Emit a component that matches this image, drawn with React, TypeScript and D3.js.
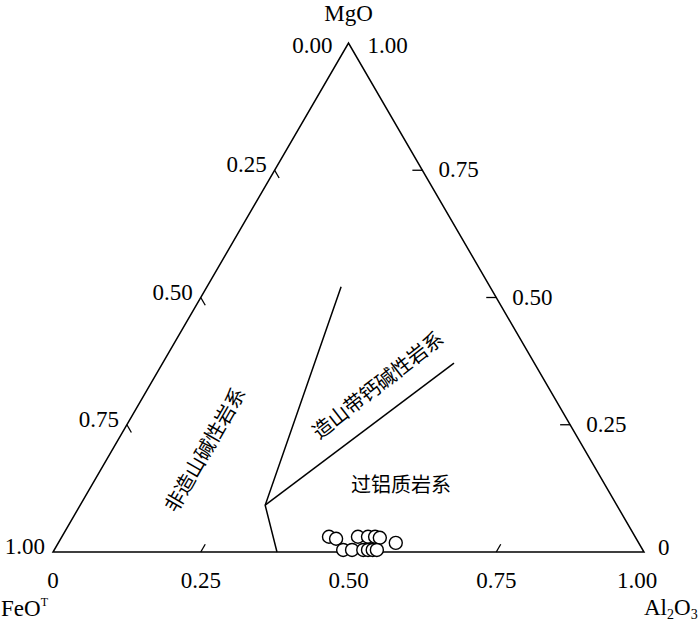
import React from "react";
import * as d3 from "d3";

// Ternary data: FeO^T (left apex), MgO (top apex), Al2O3 (right apex)
const feo = [0.518, 0.508, 0.469, 0.452, 0.44, 0.433, 0.507, 0.492, 0.473, 0.465, 0.457, 0.45, 0.411];
const mgo = [0.03, 0.026, 0.03, 0.03, 0.03, 0.028, 0.004, 0.004, 0.004, 0.004, 0.004, 0.004, 0.018];
const al2o3 = [0.452, 0.466, 0.501, 0.518, 0.53, 0.539, 0.489, 0.504, 0.523, 0.531, 0.539, 0.546, 0.571];

// Field boundaries as [Al2O3, MgO] compositions
const boundaryA: [number, number][] = [[0.227, 0.521], [0.313, 0.092], [0.379, 0]];
const boundaryB: [number, number][] = [[0.313, 0.092], [0.493, 0.371]];

const tickValues = [0.25, 0.5, 0.75];
const bottomTickLabels = ["0", "0.25", "0.50", "0.75", "1.00"];
const leftTickLabels = ["0.00", "0.25", "0.50", "0.75", "1.00"];
const rightTickLabels = ["1.00", "0.75", "0.50", "0.25", "0"];

const fieldLabels = ["非造山碱性岩系", "造山带钙碱性岩系", "过铝质岩系"];

const W = 700;
const H = 623;
const left = 53;
const right = 644;
const base = 552;
const top = 43;

const xScale = d3.scaleLinear().domain([0, 1]).range([left, right]);
const yScale = d3.scaleLinear().domain([0, 1]).range([base, top]);

const proj = (al: number, mg: number): [number, number] => [xScale(al + mg / 2), yScale(mg)];

const serif = "'Liberation Serif', 'Times New Roman', serif";
const cjk = "'Noto Sans CJK SC', sans-serif";
const fs = 23;

export default function App() {
  const line = d3.line<[number, number]>().x((d) => d[0]).y((d) => d[1]);
  const tri = line.curve(d3.curveLinearClosed)([proj(0, 0), proj(1, 0), proj(0, 1)]) || "";
  const lineA = d3.line<[number, number]>()(boundaryA.map(([a, m]) => proj(a, m))) || "";
  const lineB = d3.line<[number, number]>()(boundaryB.map(([a, m]) => proj(a, m))) || "";
  const tl = 9;
  const c60 = 0.5;
  const s60 = Math.sqrt(3) / 2;

  const leftVals = [0, 0.25, 0.5, 0.75, 1];
  const rightVals = [1, 0.75, 0.5, 0.25, 0];

  return (
    <svg width={W} height={H} style={{ position: "absolute", left: 0, top: 0, background: "#fff" }}>
      <path d={tri} fill="none" stroke="#000" strokeWidth={1.5} strokeLinejoin="miter" />
      {tickValues.map((v) => {
        const [x, y] = proj(v, 0);
        return <line key={"b" + v} x1={x} y1={y} x2={x + tl * c60} y2={y - tl * s60} stroke="#000" strokeWidth={1.3} />;
      })}
      {tickValues.map((v) => {
        const [x, y] = proj(0, 1 - v);
        return <line key={"l" + v} x1={x} y1={y} x2={x + tl * c60} y2={y + tl * s60} stroke="#000" strokeWidth={1.3} />;
      })}
      {tickValues.map((v) => {
        const [x, y] = proj(1 - v, v);
        return <line key={"r" + v} x1={x} y1={y} x2={x - tl - 1} y2={y} stroke="#000" strokeWidth={1.3} />;
      })}
      <path d={lineA} fill="none" stroke="#000" strokeWidth={1.5} />
      <path d={lineB} fill="none" stroke="#000" strokeWidth={1.5} />

      <g fontFamily={serif} fontSize={fs} fill="#000">
        {bottomTickLabels.map((t, i) => {
          const [x] = proj(i * 0.25, 0);
          return (
            <text key={"bl" + i} x={x + (i === 4 ? -7 : 0)} y={588} textAnchor="middle">
              {t}
            </text>
          );
        })}
        {leftTickLabels.map((t, i) => {
          if (i === 0) {
            const [x, y] = proj(0, 1);
            return (
              <text key="ll0" x={x - 16} y={y + 10} textAnchor="end">
                {t}
              </text>
            );
          }
          const [x, y] = proj(0, 1 - leftVals[i]);
          return (
            <text key={"ll" + i} x={x - 8} y={y + 2} textAnchor="end">
              {t}
            </text>
          );
        })}
        {rightTickLabels.map((t, i) => {
          if (i === 0) {
            const [x, y] = proj(0, 1);
            return (
              <text key="rl0" x={x + 19} y={y + 10} textAnchor="start">
                {t}
              </text>
            );
          }
          const v = rightVals[i];
          const [x, y] = proj(1 - v, v);
          return (
            <text key={"rl" + i} x={x + (i === 4 ? 14 : 16)} y={y + (i === 4 ? 3 : 7)} textAnchor="start">
              {t}
            </text>
          );
        })}
        <text x={proj(0, 1)[0]} y={21} textAnchor="middle">
          MgO
        </text>
        <text x={1} y={616}>
          FeO
          <tspan fontSize={12} dy={-10}>
            T
          </tspan>
        </text>
        <text x={644} y={615}>
          Al
          <tspan fontSize={14} dy={4}>
            2
          </tspan>
          <tspan dy={-4}>O</tspan>
          <tspan fontSize={14} dy={4}>
            3
          </tspan>
        </text>
      </g>

      <g fontFamily={cjk} fontSize={20} fill="#000">
        <text transform="translate(204,449) rotate(-60)" textAnchor="middle" dominantBaseline="central">
          {fieldLabels[0]}
        </text>
        <text transform="translate(377,384) rotate(-38)" textAnchor="middle" dominantBaseline="central">
          {fieldLabels[1]}
        </text>
        <text x={401} y={483} textAnchor="middle" dominantBaseline="central">
          {fieldLabels[2]}
        </text>
      </g>

      {feo.map((f, i) => {
        const [x, y] = proj(al2o3[i], mgo[i]);
        return <circle key={"p" + i} cx={x} cy={y} r={6.5} fill="#fff" stroke="#000" strokeWidth={1.4} />;
      })}
    </svg>
  );
}
